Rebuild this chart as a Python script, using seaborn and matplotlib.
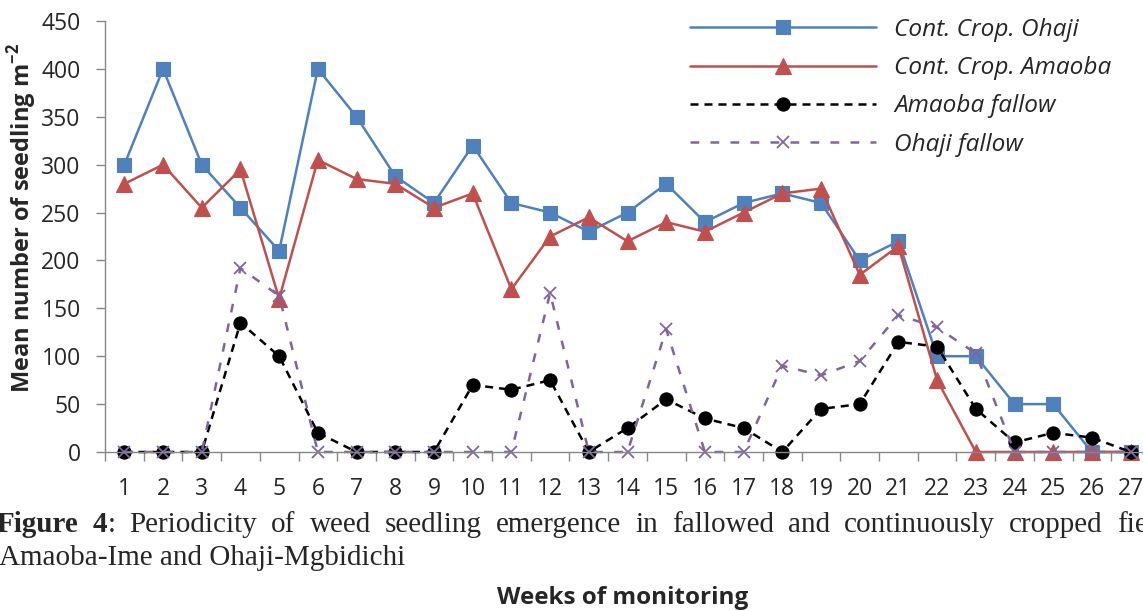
import numpy as np
import pandas as pd
import matplotlib
matplotlib.use("Agg")
import matplotlib.pyplot as plt
import seaborn as sns

# ---------------- data ----------------
weeks = list(range(1, 28))
cont_crop_ohaji = [300, 400, 300, 255, 210, 400, 350, 288, 260, 320, 260, 250, 230, 250,
                   280, 240, 260, 270, 260, 200, 220, 100, 100, 50, 50, 0, 0]
cont_crop_amaoba = [280, 300, 255, 295, 160, 305, 285, 280, 255, 270, 170, 225, 245, 220,
                    240, 230, 250, 270, 275, 185, 215, 75, 0, 0, 0, 0, 0]
amaoba_fallow = [0, 0, 0, 135, 100, 20, 0, 0, 0, 70, 65, 75, 0, 25,
                 55, 35, 25, 0, 45, 50, 115, 110, 45, 10, 20, 15, 0]
ohaji_fallow = [0, 0, 0, 192, 163, 0, 0, 0, 0, 0, 0, 166, 0, 0,
                128, 0, 0, 90, 80, 95, 143, 130, 103, 0, 0, 0, 0]
series_names = ["Cont. Crop. Ohaji", "Cont. Crop. Amaoba", "Amaoba fallow", "Ohaji fallow"]
y_ticks = [0, 50, 100, 150, 200, 250, 300, 350, 400, 450]
x_label = "Weeks of monitoring"
y_label = "Mean number of seedling m$^{\\mathbf{-2}}$"
caption_words = ["Figure", "4", ":", "Periodicity", "of", "weed", "seedling", "emergence", "in",
                 "fallowed", "and", "continuously", "cropped", "fields", "in"]
caption_line2 = "Amaoba-Ime and Ohaji-Mgbidichi"

df = pd.DataFrame({"Week": weeks,
                   series_names[0]: cont_crop_ohaji,
                   series_names[1]: cont_crop_amaoba,
                   series_names[2]: amaoba_fallow,
                   series_names[3]: ohaji_fallow})
long_df = df.melt(id_vars="Week", var_name="Series", value_name="Value")

# ---------------- style ----------------
sns.set_theme(style="white")
plt.rcParams['font.family'] = ['Open Sans', 'DejaVu Sans']
plt.rcParams['mathtext.fontset'] = 'custom'
plt.rcParams['mathtext.rm'] = 'Open Sans'
plt.rcParams['mathtext.bf'] = 'Open Sans:bold'

W, H = 1143, 611
fig = plt.figure(figsize=(W / 100, H / 100), dpi=100)
fig.patch.set_facecolor("white")
ax = fig.add_axes([105 / W, 1 - 452 / H, (1150 - 105) / W, (452 - 21) / H])
ax.set_facecolor("white")

styles = {
    series_names[0]: dict(color="#4F81BD", marker="s", ms=10.5, dashes=None, mew=0.8),
    series_names[1]: dict(color="#C0504D", marker="^", ms=11, dashes=None, mew=0.8),
    series_names[2]: dict(color="#000000", marker="o", ms=9.5, dashes=(3.2, 2.4), mew=0.8),
    series_names[3]: dict(color="#8064A2", marker="x", ms=8.5, dashes=(3.5, 4.5), mew=1.3),
}

for name in series_names:
    st = styles[name]
    sub = long_df[long_df["Series"] == name]
    sns.lineplot(data=sub, x="Week", y="Value", ax=ax, color=st["color"], marker=st["marker"],
                 markersize=st["ms"], markeredgecolor=st["color"], markeredgewidth=st["mew"],
                 linewidth=1.8, label=name, clip_on=False)
    line = ax.get_lines()[-1]
    if st["dashes"] is not None:
        line.set_dashes(st["dashes"])

ax.set_xlim(0.5, 27.5)
ax.set_ylim(0, 450)
ax.set_yticks(y_ticks)
ax.set_yticklabels([str(v) for v in y_ticks], fontsize=16.5)
ax.set_xticks(np.arange(0.5, 28, 1))
ax.set_xticklabels([])
ax.set_xticks(weeks, minor=True)
ax.set_xticklabels([str(w) for w in weeks], minor=True, fontsize=16.5)
ax.tick_params(axis="x", which="major", length=6.5, width=1, color="#878787", direction="out", bottom=True)
ax.tick_params(axis="x", which="minor", length=0, pad=18, bottom=True)
ax.tick_params(axis="y", length=6.5, width=1, color="#878787", direction="out", pad=11, left=True)
for s in ["top", "right"]:
    ax.spines[s].set_visible(False)
for s in ["left", "bottom"]:
    ax.spines[s].set_color("#878787")
    ax.spines[s].set_linewidth(1.0)
ax.set_xlabel("")
ax.set_ylabel("")

fig.text(22 / W, 1 - 218 / H, y_label, rotation=90, ha="center", va="center",
         fontsize=17, fontweight="bold")
fig.text(623 / W, 1 - 598 / H, x_label, ha="center", va="center", fontsize=17.5, fontweight="bold")

leg = ax.legend(loc="upper left", bbox_to_anchor=(690 / W, 1 - 18 / H), bbox_transform=fig.transFigure,
                frameon=False, prop={"style": "italic", "size": 17.6}, handlelength=7.6,
                handletextpad=0.75, labelspacing=0.58, borderpad=0, borderaxespad=0)

# ---------------- caption (justified first line) ----------------
fig.canvas.draw()
renderer = fig.canvas.get_renderer()
cap_size = 21
texts = []
for i, w in enumerate(caption_words):
    weight = "bold" if i < 2 else "normal"
    t = fig.text(0, 1 - 532 / H, w, fontsize=cap_size, family="Liberation Serif",
                 fontweight=weight, ha="left", va="baseline")
    texts.append(t)
widths = [t.get_window_extent(renderer).width for t in texts]
x_start, x_fields = -3, 1117
idx_fields = caption_words.index("fields")
gap = (x_fields - x_start - sum(widths[:idx_fields])) / (idx_fields - 1)
x = x_start
for i, (t, wdt) in enumerate(zip(texts, widths)):
    t.set_x(x / W)
    # the colon follows "4" directly, without a justified gap
    x += wdt + (0 if i == 1 else gap)
fig.text(-1 / W, 1 - 565 / H, caption_line2, fontsize=cap_size, family="Liberation Serif",
         ha="left", va="baseline")

fig.savefig("out.png", dpi=100)
